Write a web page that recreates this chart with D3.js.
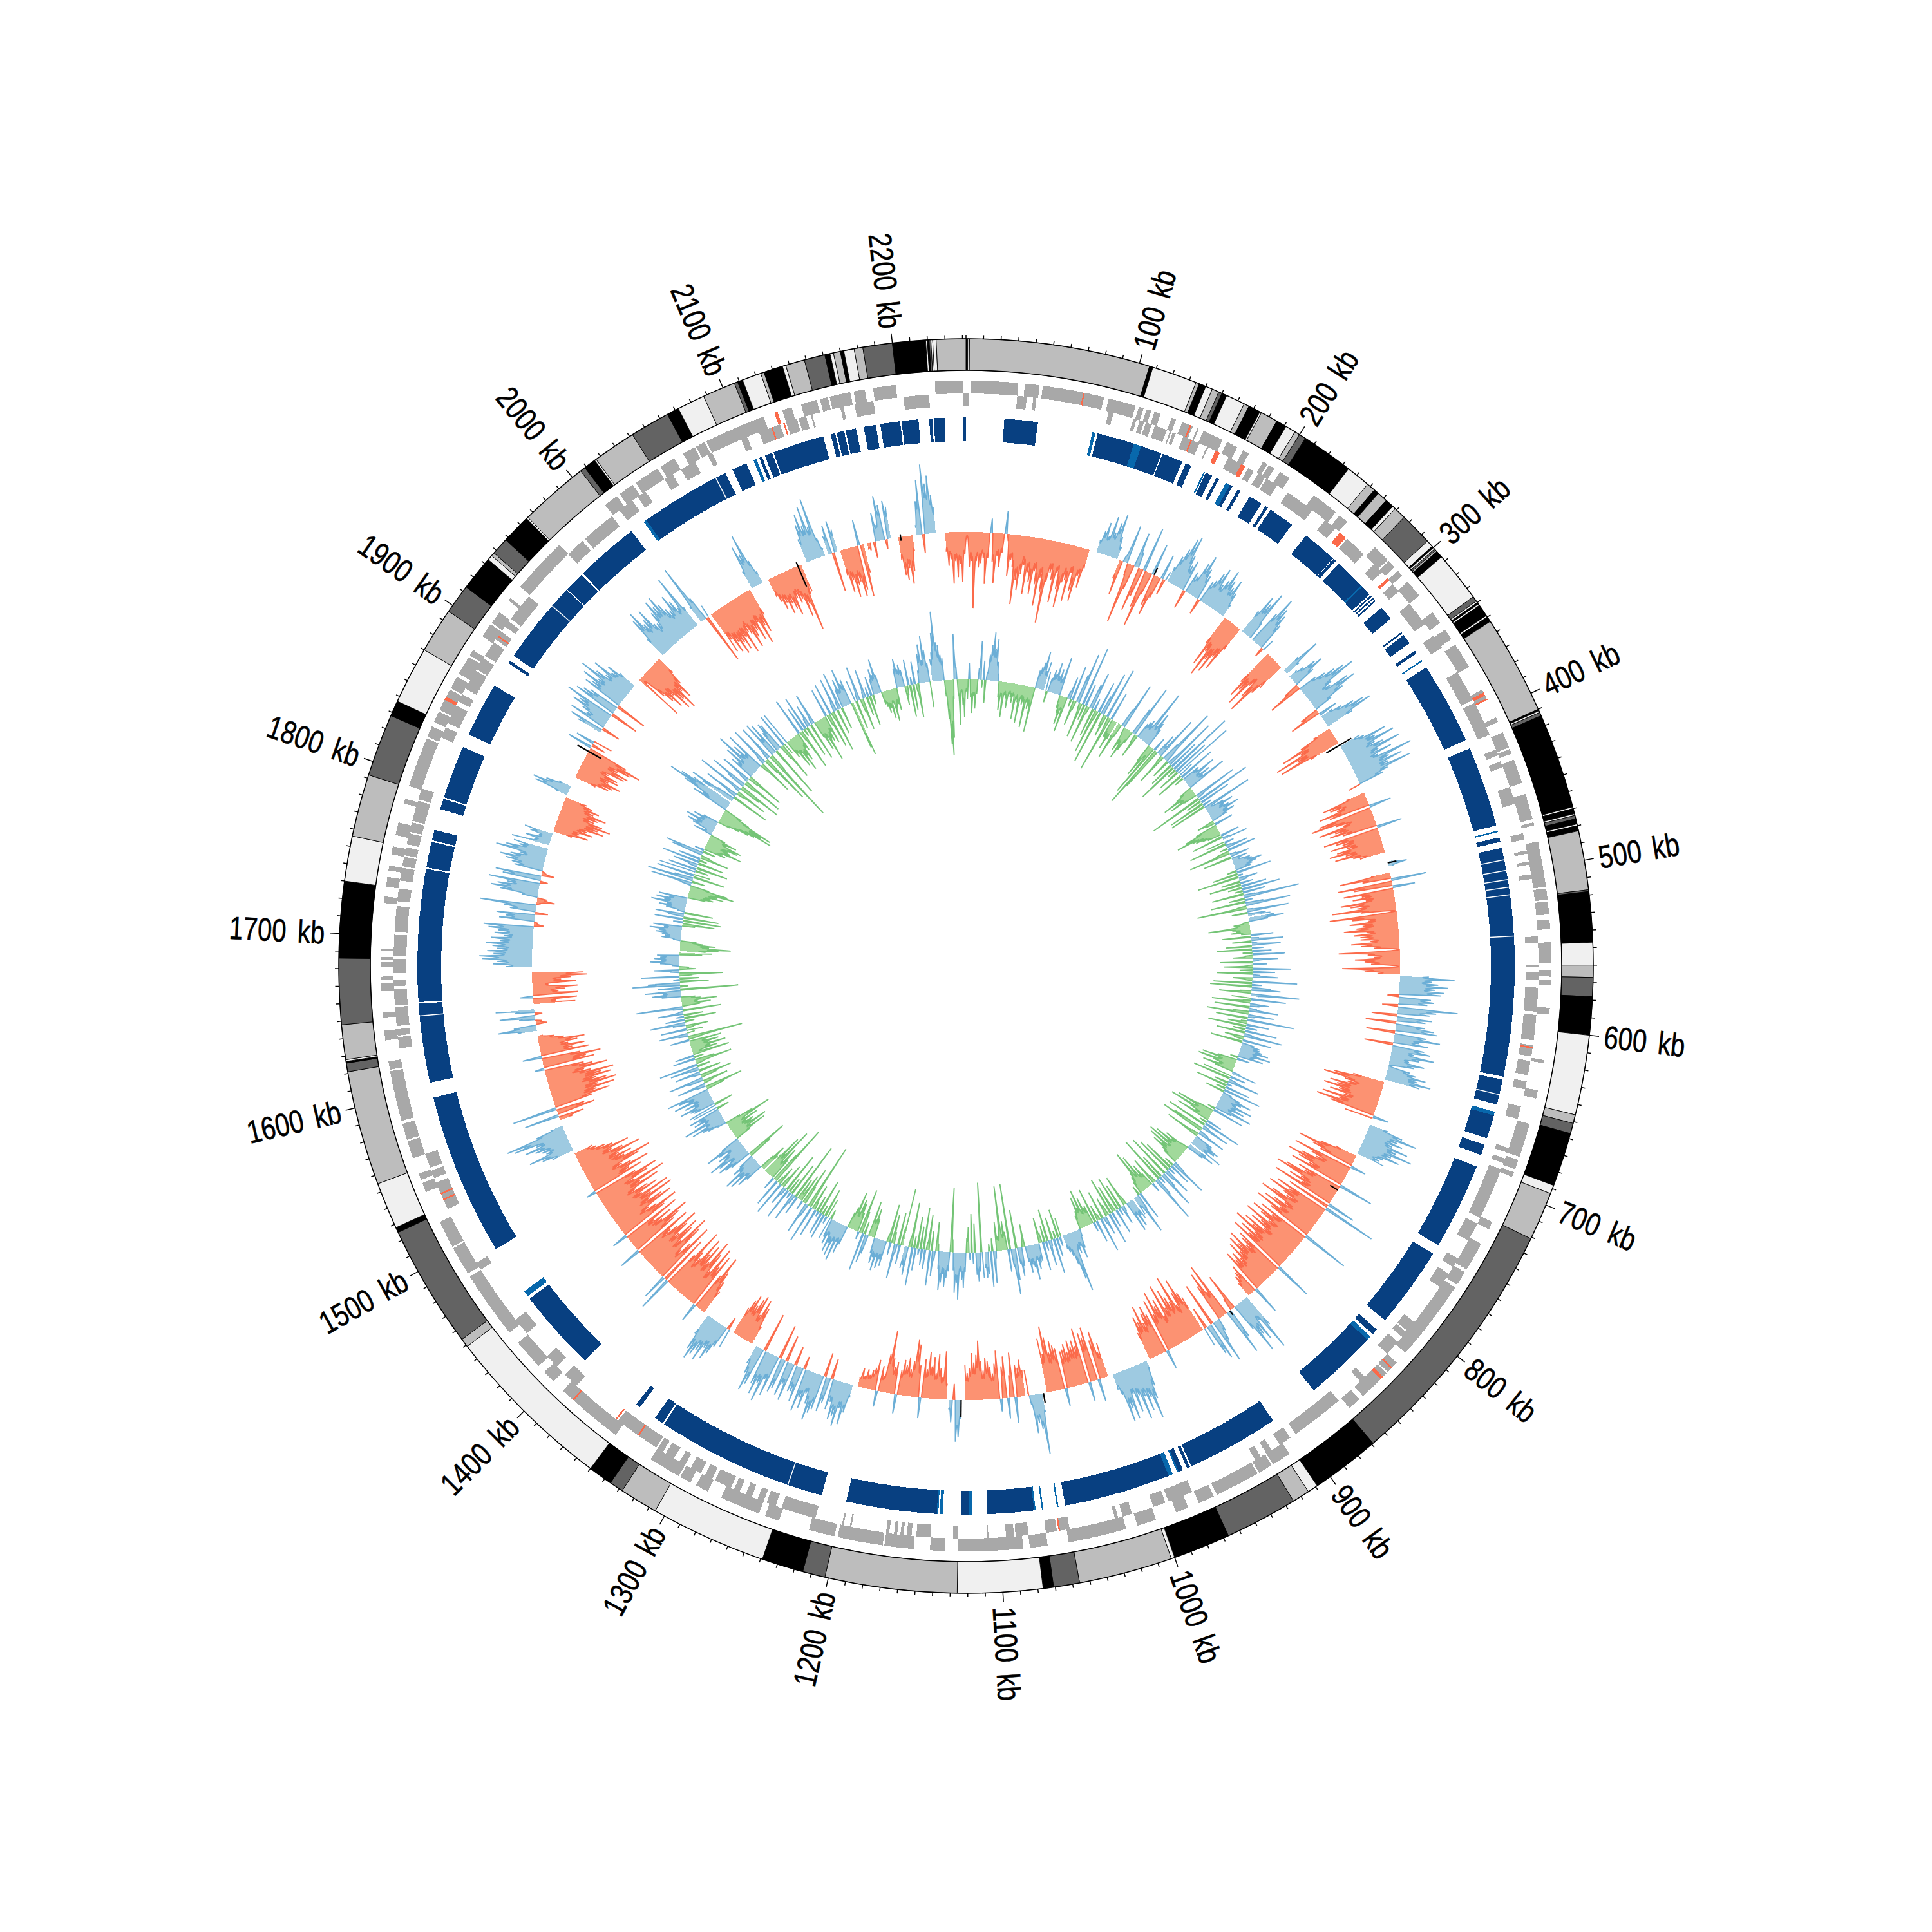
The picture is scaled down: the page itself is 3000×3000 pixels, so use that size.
<!DOCTYPE html>
<html><head><meta charset="utf-8">
<script src="https://d3js.org/d3.v7.min.js"></script>
<style>html,body{margin:0;background:#fff}text{font-family:"Liberation Sans",sans-serif}</style>
</head><body><svg id="c" width="3000" height="3000"></svg>
<script>
const genomeKb=2242;
const tickLabels=[100,200,300,400,500,600,700,800,900,1000,1100,1200,1300,1400,1500,1600,1700,1800,1900,2000,2100,2200];
// outer ring: start kb, end kb, shade index (0 black, 1 dark, 2 mid, 3 light)
const bandRows=[[0,1,0],[1,2,3],[2,106,2],[106,108,0],[108,134,3],[134,136,2],[136,140,0],[140,144,3],[144,148,2],[148,150,1],[150,153,0],[153,164,3],[164,167,2],[167,174,0],[174,175,3],[175,185,2],[185,191,0],[191,197,3],[197,200,2],[200,204,1],[204,234,0],[234,248,3],[248,253,2],[253,256,0],[256,262,2],[262,267,0],[267,269,3],[269,276,2],[276,295,1],[295,299,3],[299,300,0],[300,301,3],[301,302,1],[302,303,2],[303,307,0],[307,336,3],[336,339,1],[339,340,3],[340,341,0],[341,342,3],[342,349,0],[349,350,3],[350,353,0],[353,410,2],[410,411,0],[411,412,3],[412,414,1],[414,469,0],[469,470,3],[470,473,0],[473,474,3],[474,476,1],[476,479,0],[479,480,3],[480,483,0],[483,517,2],[517,518,1],[518,547,0],[547,560,3],[560,567,2],[567,578,1],[578,600,0],[600,646,3],[646,651,2],[651,657,1],[657,688,0],[688,693,3],[693,721,2],[721,869,1],[869,909,0],[909,915,3],[915,925,2],[925,967,1],[967,1000,0],[1000,1002,3],[1002,1056,2],[1056,1071,1],[1071,1077,0],[1077,1126,3],[1126,1202,2],[1202,1215,1],[1215,1239,0],[1239,1306,3],[1306,1328,2],[1328,1336,1],[1336,1350,0],[1350,1449,3],[1449,1454,2],[1454,1525,1],[1525,1528,0],[1528,1555,3],[1555,1621,2],[1621,1626,1],[1626,1627,0],[1627,1628,3],[1628,1648,2],[1648,1686,1],[1686,1730,0],[1730,1756,3],[1756,1792,2],[1792,1828,1],[1828,1837,0],[1837,1870,3],[1870,1896,2],[1896,1913,1],[1913,1933,0],[1933,1936,3],[1936,1938,2],[1938,1948,1],[1948,1965,0],[1965,1966,3],[1966,2006,2],[2006,2009,1],[2009,2016,0],[2016,2017,3],[2017,2042,2],[2042,2065,1],[2065,2072,0],[2072,2088,3],[2088,2107,2],[2107,2109,1],[2109,2112,0],[2112,2123,3],[2123,2125,2],[2125,2136,0],[2136,2138,3],[2138,2149,2],[2149,2161,1],[2161,2164,0],[2164,2166,3],[2166,2170,2],[2170,2172,0],[2172,2178,3],[2178,2183,2],[2183,2200,1],[2200,2219,0],[2219,2220,3],[2220,2221,0],[2221,2222,1],[2222,2223,3],[2223,2225,3],[2225,2242,2]];
const bandShades=["#000000","#636363","#bdbdbd","#f0f0f0"];
const geneA=[[2185,2199],[2223,2240],[3,32],[36,45],[47,85],[88,105],[107,110],[112,115],[117,121],[128,131],[135,142],[145,146],[149,162],[165,172],[176,180],[190,193],[194,198],[202,209],[227,234],[234,244],[247,253],[276,287],[288,293],[296,300],[305,316],[329,337],[342,349],[353,369],[385,392],[404,407],[414,424],[425,428],[432,447],[454,470],[472,474],[484,512],[513,520],[521,529],[532,538],[546,559],[563,567],[569,572],[586,590],[618,620],[637,642],[658,679],[681,687],[689,692],[722,727],[737,755],[757,766],[768,806],[806,818],[826,834],[835,855],[858,866],[912,924],[925,934],[935,963],[965,975],[982,990],[1003,1015],[1022,1058],[1071,1082],[1086,1126],[1134,1143],[1153,1171],[1172,1200],[1202,1218],[1237,1246],[1250,1256],[1256,1268],[1268,1275],[1284,1292],[1296,1303],[1304,1318],[1318,1324],[1350,1383],[1384,1392],[1400,1408],[1413,1425],[1424,1432],[1440,1452],[1452,1482],[1484,1502],[1503,1520],[1540,1546],[1548,1552],[1562,1573],[1574,1584],[1586,1617],[1618,1623],[1636,1642],[1650,1653],[1666,1671],[1673,1675],[1681,1684],[1685,1687],[1691,1692],[1720,1724],[1730,1736],[1740,1743],[1750,1755],[1762,1770],[1782,1785],[1793,1796],[1795,1824],[1825,1832],[1835,1842],[1843,1857],[1858,1866],[1868,1880],[1881,1885],[1895,1904],[1905,1913],[1922,1924],[1933,1955],[1950,1968],[2005,2014],[2016,2026],[2028,2044],[2046,2056],[2062,2070],[2071,2077],[2078,2100],[2100,2116],[2123,2125],[2128,2134],[2140,2150],[2152,2157],[2158,2166],[2166,2171],[2173,2180]];
const geneB=[[2203,2219],[2240,2244],[32,38],[42,44],[90,93],[106,108],[110,113],[114,118],[120,128],[130,131],[132,134],[139,150],[155,156],[161,164],[170,182],[184,188],[191,196],[197,205],[213,232],[242,250],[254,259],[260,268],[266,274],[283,290],[295,297],[300,306],[316,332],[341,350],[368,388],[390,406],[405,412],[422,426],[430,434],[447,458],[477,481],[488,490],[495,497],[503,506],[542,546],[560,561],[564,569],[574,589],[591,607],[610,617],[620,629],[633,638],[649,657],[676,679],[683,686],[690,723],[727,739],[752,758],[763,773],[800,807],[808,812],[816,826],[846,850],[868,877],[877,902],[906,914],[920,924],[928,932],[976,984],[983,992],[994,1002],[1016,1022],[1025,1027],[1056,1063],[1064,1071],[1082,1090],[1091,1096],[1107,1108],[1126,1129],[1143,1152],[1155,1158],[1160,1162],[1164,1166],[1169,1171],[1193,1194],[1198,1199],[1216,1226],[1226,1238],[1242,1248],[1250,1254],[1258,1262],[1266,1270],[1272,1283],[1285,1290],[1293,1300],[1304,1308],[1312,1318],[1320,1324],[1325,1338],[1338,1354],[1388,1398],[1405,1414],[1433,1444],[1482,1487],[1525,1543],[1546,1551],[1553,1562],[1630,1637],[1638,1642],[1644,1656],[1657,1667],[1669,1673],[1677,1686],[1688,1701],[1703,1719],[1722,1730],[1735,1743],[1744,1750],[1751,1756],[1758,1765],[1766,1772],[1773,1786],[1787,1794],[1828,1835],[1838,1845],[1845,1850],[1853,1858],[1862,1875],[1876,1884],[1886,1896],[1898,1904],[1908,1912],[1914,1932],[1968,1980],[1982,2004],[2010,2020],[2024,2030],[2044,2050],[2056,2066],[2075,2078],[2098,2102],[2110,2112],[2112,2116],[2115,2124],[2128,2135],[2136,2141],[2144,2145],[2163,2165],[2172,2184]];
const geneRedA=[[72,73],[140,141],[387,389],[391,392],[830,831],[838,840],[1383,1384],[1850,1852],[2123,2125]];
const geneRedB=[[144,145],[161,164],[179,182],[254,259],[295,297],[611,612],[1062,1063],[1338,1339],[1355,1356],[1531,1532],[1535,1536],[1900,1901],[2118,2119],[2126,2127]];
const ringBlocks=[[25,47],[83,85],[86.5,130],[130.7,144.5],[147,151],[160,161],[161.5,166],[169,171],[176,181],[185,187],[194,203],[206,208],[210,227],[238.5,261.6],[262,264],[266.6,295],[296,297],[298,299],[300,301],[306.5,316],[327,328],[329.5,336],[342,344],[349.5,350.5],[355,409],[415,468],[471.5,472.5],[476,479],[483,633],[635,651.5],[656.5,674.5],[679,686],[694,751],[757.5,811],[819,823],[825,876],[909,970],[971,973],[976,980],[983,1056],[1060.5,1061.5],[1070.5,1071.5],[1076,1107],[1117,1124],[1136,1138],[1139,1199.5],[1216,1329],[1330,1336],[1348,1351],[1395,1449],[1488,1595],[1605,1657],[1658,1745],[1746,1763],[1764,1771],[1785,1792],[1793,1828],[1837,1873],[1890,1892],[1896,1951],[1951.6,1965],[1966,2008],[2018,2080],[2085,2095],[2100,2102],[2104,2106],[2108,2113],[2114,2122],[2122,2148],[2153,2156],[2157,2162],[2163,2170],[2175,2183],[2186,2199],[2200,2211],[2218,2220],[2221,2228],[2240,2242]];
const ringLight=[[83,85],[111,116],[160,161],[176,179],[287,288],[349.5,350.5],[471.5,472.5],[656.5,659],[825,828],[979,980],[983,986],[1060.5,1061.5],[1070.5,1071.5],[1075.5,1076.5],[1117,1119],[1136,1138],[1139,1140],[1451,1455],[2018,2020],[2100,2102]];
const ringNicks=[491,498,504,509,514,541,645,1239,1649,1937,2073];
// signed track values every 2 kb: [start kb, values]
const skewRuns=[
[2225,[-30,-52,-42,-80,-45,-70,-50,-78,-35,-6,-55,-45,-118,-45,-55,-48,-40,-80,-40,22,-45,-78,-35,-52,-30,35,-8,-65,-40,-50,-108,-70,-85,-60,-45,-90,-55,-70,-88,-52,-72,-105,-60,-82,-130,-65,-50,-60,-95,-48,-72,-100,-60,-55,-88,-42,-70,-85,-45,-62,-30]],
[109,[20,35,50,30,62,38,55,70,35,20]],
[129,[-30,-55,10,60,-20,-95,-40,55,25,-70,-45,70,-60,-90,-35,50,-50,-65,-35,40,-25,15]],
[172,[25,45,60,80,85,55,40,50,-30,35,30,55,70,50,40,-25,35,40,55,65,40,50,70,55,45,60,40,22]],
[228,[-50,-85,-60,-100,-70,-90,-60,-80,-40]],
[246,[40,70,60,82,30,0,55,85,70,60,45,-15,20]],
[274,[-60,-85,-70,-95,-55,-75,-100,-60,-45]],
[293,[30,65,25]],
[300,[15,25,45,55,35,-25,-55,30,45,60,75,90,45,40,70,80,55,30,-30,-50,30,0]],
[342,[20,35,55,70,80,45]],
[354,[-30,-55,-90,-60,-105,-70,-100,-50]],
[371,[35,40,75,55,85,50,62,88,50,70,45,100,60,80,55,90,50,40,-20]],
[414,[-30,-70,-60,-50,-80,-65,35,-85,-99,-60,-50,-90,-65,-75,-55,40,-88,-70,-60,-80,-55,-72,-85,-60,-78,-50,-40]],
[474,[8,30,8]],
[483,[-30,-80,-45,55,-85,-60,35,-78,-50,-65,-45,-85,-70,-60,-100,-55,-2,-105,-70,-45,-75,-55,-65,-85,-50,-70,-60,-60,-45,-75,-60,-40,-2,-95,-50,-40,-70,-55,-45,-2,-90,-55,-35]],
[569,[45,85,50,60,75,55,70,65,-18,50,55,45,-25,93,60,50,-40,55,45,-48,45,60,65,-45,50,72,40,55,-45,50,60,35,68,45,30,55,40,2,35,45,62,50,72,55]],
[657,[-50,-80,-95,-60,-55,-82,-70,-90,-65,-78,-55,-88,-60,-95,-72,25,-45]],
[694,[30,55,80,50,60,45,72,55,82,50,65,40,35,45]],
[722,[-35,-60,-95,-70,-55,25,-95,-65,-55,-78,-100,-80,-60,-88,55,-72,-60,-90,-105,-60,-78,-55,-100,45,-70,85,-88,-65,-98,-70,-62,-85,-103,-58,-75,-90,-60,-100,-72,75,-85,-62,-95,-78,-60,-100,-70,-85,-58,-92,-75,-105,-65,-88,-70,-98,60,-80,-72,-60,-90,-70,-85,-60,-78,-52,-65,-55,-70,45,-50,-40,-35,-25]],
[870,[55,95,40,72,60,88,45,-60,-20,50,75,-90,-45,-80,-60,20,35,70,-70,60,50,-35,30]],
[915,[-60,-70,-95,-75,-55,-105,-65,-75,-88,-60,-100,-50,-80,-70,-95,-60,-85,30,-65,-80,-70,-55,-85,-60,-70,-45]],
[968,[12,40,60,90,55,75,50,85,45,70,40,78,60,80,35,25]],
[1002,[-55,-40,-75,-62,35,-85,-70,-78,30,-88,-60,-70,-62,-72,-55,-68,-60,-58,28,-65,-70,-78,-60,-85,-103,-60,-85]],
[1058,[30,95,55,45,60,15,-40]],
[1072,[-40,-57,-45,-50,40,-70,-35,32,-65,-50,20,-75,-55,-40,-50,-60,-65,-45,-60,-92,-70,-58,-73,-50,-42,-55]],
[1125,[30,58,65,-25,35,15]],
[1137,[-25,-75,-35,-48,-70,-40,-65,-50,-72,-45,-60,32,-50,-82,-90,-55,-42,-60,-48,-55,-38,30,-50,-42,-55,-97,-60,-25,-40,25,-48,-35,-30,-22,-30,-18,-30,-15]],
[1215,[20,45,65,40,70,55,62,35,48,-32,40,55,-38,55,62,75,50,35,60,45,68,-20,55,40,42,-30,60,35,55,-42,48,55,-55,65,40,78,50,70,55,-62,60,72,45,30]],
[1305,[-30,-60,-72,-45,-75,-68,-55,-70,-60,-45]],
[1326,[30,-20,35,50,62,45,70,55,65,75,60,35]],
[1352,[-40,-55,-70,-95,-60,30,-90,-70,-100,-55,-85,-105,-65,-92,-75,-100,-60,-70,-105,-58,55,-80,40,-100,-65,-50,-92,-108,-60,-85,-98,-65,-85,-105,-70,-60,-95,35,-75,-88,-105,-60,-80,-50,-95,25,-78,-102,-68,-55,-100,-85,-65,-108,-72,-105,-60,-90,-75,-55,-98,-68,-112,-62,-88,-105,-70,15,-85,-65,-100,-72,-58,-90,-110,-68,-82,-62,-100,-72,-55,-85,-60,-48,-35,-30]],
[1525,[35,50,70,40,45,55,70,50,85,95,45,20]],
[1552,[-20,-40,55,-60,-45,70,-60,-90,-70,-100,-75,-105,-90,-75,-100,-85,-105,-70,-60,-98,-75,-62,15,-80,-68,-92,-60,30,-75,-50,-70,-45,-60,-72,-40,-25,-8]],
[1628,[30,60,35,-18,-10,25,55,-12,30,60]],
[1650,[-65,-35,-68,20,-70,-40,-50,-70,-25,-68,-45,-60,-85,-80]],
[1681,[40,60,55,78,82,60,70,55,62,72,50,65,45,60,55,70,78,-15,-5,55,45,60,-20,40,50,88,-5,-28,-15,25,60,75,65,50,80,-12,60,72,-20,-5,45,50,60,70,55,40,80,65,45,55]],
[1782,[60,25,40,20,35,45]],
[1794,[-30,-55,-40,-60,-50,-75,-65,-84,-70,-55,-60,-72,-50,-58,-45,-35]],
[1826,[18,55,60,40,20]],
[1842,[-35,-55,-60,-72,-50,-65,-62,-45,-70,-75,-55,-75,-90,-65,40,-22,30,-30]],
[1884,[40,55,-30,60,35,45,65,55,80,-45,70,60,50,-50,65,55,75,50,85,60,45,70,40,50,30]],
[1938,[-78,-8,-45,-60,-75,-55,-85,-70,-90,-60,-75,-50,-30]],
[1966,[35,70,81,55,60,75,45,42,60,78,65,80,62,50,45,68,55,40,92,35]],
[2008,[30,98,40,-80,20]],
[2018,[-70,-50,-75,-60,-82,-65,-78,-60,-88,-55,-60,-85,-70,-60,-78,-50,-88,-60,-72,-45]],
[2058,[30,70,55,85,40,20]],
[2073,[-30,-40,-55,-45,-65,-50,-60,-72,-45,-55,-50,-80,-62,-105,-48,-45]],
[2108,[38,60,75,55,85,50,95,30,12]],
[2127,[30,45,-62,50,35]],
[2137,[-40,-68,-50,-78,-60,-55,-80,-70,40,-82,-45]],
[2160,[-10,-12,0,-25,45,25,70,55,-15,60,50]],
[2186,[-35,-60,-68,-50,-75,-55,-25]],
[2201,[15,52,85,-30,108,78,90,60,40]]
];
const skewBlack=[[370,-24,21],[475,0,14],[754,-14,0],[888,0,8],[1057,0,15],[1125,0,26],[1866,-22,20],[2100,-35,6],[2188,-6,4],[160,0,12]];
const gcRuns=[
[0,[-18,-30,25,-28,-52,-25,-45,-22,18,60,-12,30,-35,12,40,55,75,50,65,30,12,-25,-45,-22,-55,-20,-25,-40,-18,-22,-30,-20,-55,-24,-28,-60,-22,-30,-26,-65,-25,-35,-30,-70,28,35,42,60,30,45]],
[100,[30,-18,22,35,30,48,28,40,25,60,-20,-28,-45,-22,-55,12,35,-12,55,-40,-15,45,80,-10,-55,94,-25,35,-60,-12,40,60,-45,18,-70,-15,50,-85,30,70,-20,-35,82,-15,-90,45,-30,-30,-48,-30]],
[200,[-25,-60,-22,30,75,-12,-40,-28,-50,-35,-20,45,85,-15,-38,25,30,35,28,90,32,55,40,30,-30,-55,-18,-85,22,-103,-70,35,15,70,-12,-50,30,95,20,-30,15,85,-40,50,-65,109,-15,60,-35,100]],
[300,[25,-45,60,-15,30,28,55,25,42,28,65,-22,-30,-55,-28,-45,-22,70,12,-86,88,-25,50,-58,15,-60,80,12,30,45,28,35,50,30,40,25,-28,-15,30,-35,-55,-70,-45,-40,-30,-22,30,-50,12,40]],
[400,[-30,15,-60,8,35,-12,45,-20,-66,10,30,-45,25,12,28,30,45,35,28,25,-15,55,-40,8,-66,30,12,-30,20,-50,40,-22,60,-12,35,-50,18,87,-25,12,-55,28,70,-15,-78,10,65,-25,28,35]],
[500,[40,55,30,-10,-25,-22,-65,-28,-22,-30,-15,35,-45,12,50,-30,8,45,-40,18,-55,30,-15,50,-12,-30,40,10,-50,22,-8,-45,60,-20,35,-55,12,40,-30,-12,70,-60,15,-65,30,45,-18,-50,75,12]],
[600,[-30,55,-12,-60,30,15,-55,12,45,-25,-65,40,10,-50,73,-10,-30,35,-60,18,-20,50,-45,12,60,-30,-15,45,-50,20,30,30,35,45,28,50,25,40,-12,20,-30,-55,-28,-60,-35,-25,-50,-30,12,40]],
[700,[-45,25,-60,12,50,-22,8,-50,40,-15,60,-30,15,30,50,35,28,55,30,45,25,60,28,-12,50,-28,-60,-30,-70,-35,-25,-55,25,-12,60,-65,10,45,-50,-70,15,45,-12,-55,30,32,45,40,30,55]],
[800,[30,45,28,-12,-40,-28,-55,-32,-65,-28,-60,-35,-50,-30,-25,20,60,-15,35,-50,12,-60,45,18,-70,25,60,-40,12,-76,30,75,-12,-45,15,-22,-40,-25,-60,-30,-70,-35,-28,-20,45,-15,25,65,20,30]],
[900,[35,28,45,25,50,-15,-50,10,30,-40,12,-55,40,-12,-45,25,-60,50,-18,-30,30,12,-45,55,-10,-25,35,-55,15,-30,-28,-45,-25,-60,-32,-50,-28,-22,12,30,45,25,35,30,95,75,50,35,28,22]],
[1000,[-30,15,-45,30,-12,55,-35,10,40,-50,15,-25,45,-15,-40,28,30,40,25,55,35,30,42,25,-35,-10,30,45,25,-60,50,72,28,-102,35,-28,-45,-25,-100,-30,-22,-45,12,50,-20,55,-12,35,40,25]],
[1100,[40,-108,30,45,35,-45,18,-60,12,-40,-22,30,55,42,30,73,48,62,28,-20,-100,30,40,55,35,48,60,28,-12,-45,15,40,-30,55,-55,-12,30,-65,25,-35,10,-50,35,-18,60,-70,-15,45,30,35]],
[1200,[-90,-25,30,-50,15,55,-18,-45,20,-60,-12,40,30,45,28,50,30,40,25,-30,-45,-28,-55,30,45,-20,60,-35,-70,12,-30,-45,-50,-28,-60,-35,-25,30,45,28,60,30,54,35,50,25,40,30,-15,35]],
[1300,[-30,12,-45,40,-15,35,-55,8,-25,45,-12,-40,60,-20,-105,20,50,-30,-60,15,-45,-12,-35,30,-93,15,45,-55,10,-25,50,-65,12,30,-40,-18,55,-30,-12,45,-100,-50,20,-35,-55,-30,-86,-40,-70,-35]],
[1400,[-30,-45,-25,30,45,28,55,35,60,30,40,25,-40,-68,35,45,55,30,50,65,35,45,25,40,60,30,-25,-55,-30,-60,-35,-40,-28,-50,-30,-75,-45,-25,15,30,38,55,30,65,28,45,35,50,-20,40]],
[1500,[45,-30,35,40,55,30,45,28,60,35,50,68,-30,-60,15,45,-12,-40,25,55,-25,-50,12,40,-35,15,45,-20,61,-12,-58,-30,35,-15,30,-58,-12,-40,-30,-55,-28,-45,-25,-50,30,-20,-86,15,45,-12]],
[1600,[-25,40,-12,-35,20,55,-15,30,-50,12,-30,40,8,-60,15,72,-28,-45,-25,-55,-30,-22,30,45,28,55,-90,35,-12,74,50,-45,10,-30,60,-20,-67,15,40,-25,-15,12,30,45,28,40,30,35,-35,-50]],
[1700,[-40,-60,-79,-45,-55,-35,-25,12,30,25,30,40,35,50,28,45,-20,-50,15,-60,45,-55,25,45,-45,12,30,42,30,55,35,48,28,45,-28,-40,-35,-55,-45,-70,-60,-30,15,65,-20,72,30,-50,60,-25]],
[1800,[58,-20,45,-50,15,40,-40,60,-12,35,-45,-15,50,60,-20,15,-35,-30,-60,-40,-35,-50,-55,-30,-45,-25,30,12,35,45,30,50,28,40,25,-20,-35,-50,-60,-88,-70,-85,-45,-30,60,45,80,108,90,70]],
[1900,[55,75,30,-60,15,55,-12,-50,10,75,-35,-70,30,60,-20,-65,15,50,-18,-60,40,30,55,28,75,35,50,30,65,-12,-55,15,65,-25,-80,12,60,-120,-30,60,30,55,-83,35,50,45,-25,-60,55,-18]],
[2000,[54,-30,-25,-50,-28,-60,-35,-45,-25,-30,60,-15,-65,40,-12,55,-50,15,35,-60,10,50,-28,-50,-30,-70,-35,-40,-25,-45,45,-18,-55,50,-12,-65,15,53,-40,12,60,-35,30,45,28,59,35,40,-75,-87]],
[2100,[35,-45,12,54,-20,-50,10,45,-30,15,-48,30,-15,25,40,30,54,28,-20,-25,-35,-28,-45,-22,-50,-30,-25,-35,30,45,28,35,25,-30,-15,40,-50,12,-40,35,-12,-53,20,45,60,35,72,50,30,-40]],
[2200,[35,45,75,108,60,55,40,35,-25,-60,-100,-117,-90,-30,71,20,-25,-70,-20,-40,-58,-20]]
];

const svg=d3.select("#c"), g=svg.append("g").attr("transform","translate(1500,1500)");
const ang=d3.scaleLinear().domain([0,genomeKb]).range([0,2*Math.PI]);
const deg=d3.scaleLinear().domain([0,genomeKb]).range([0,360]);
const arc=d3.arc();
function band(sel,rows,r0,r1,fill){
  sel.append("g").selectAll("path").data(rows).join("path")
    .attr("d",d=>arc({innerRadius:r0,outerRadius:r1,startAngle:ang(d[0]),endAngle:ang(d[1])}))
    .attr("fill",fill).attr("shape-rendering","crispEdges");
}
g.append("g").selectAll("path").data(bandRows).join("path")
 .attr("d",d=>arc({innerRadius:925,outerRadius:974,startAngle:ang(d[0]),endAngle:ang(d[1])}))
 .attr("fill",d=>bandShades[d[2]]).attr("stroke","#000").attr("stroke-width",0.9);
g.append("circle").attr("r",974).attr("fill","none").attr("stroke","#000").attr("stroke-width",1.4);
g.append("circle").attr("r",925).attr("fill","none").attr("stroke","#000").attr("stroke-width",1.4);
const minor=d3.range(0,genomeKb,10);
g.append("g").selectAll("line").data(minor).join("line")
 .attr("transform",d=>`rotate(${deg(d)})`).attr("y1",-974)
 .attr("y2",d=>d%100===0&&d>0?-989:-980).attr("stroke","#000").attr("stroke-width",1.5);
g.append("g").selectAll("text").data(tickLabels).join("text")
 .attr("transform",d=>{const a=deg(d),rad=ang(d),R=997,x=R*Math.sin(rad),y=-R*Math.cos(rad);
   return `translate(${x},${y}) rotate(${a<180?a-90:a+90}) scale(0.8,1)`;})
 .attr("text-anchor",d=>deg(d)<180?"start":"end").attr("dominant-baseline","central")
 .attr("font-size",50).attr("word-spacing",8).attr("fill","#000").attr("stroke","#000").attr("stroke-width",0.6).text(d=>d+" kb");
const gA=g.append("g"); band(gA,geneA,889,909,"#a8a8a8");band(gA,geneRedA,889,909,"#fb6a4a");
const gB=g.append("g"); band(gB,geneB,869,889,"#a8a8a8");band(gB,geneRedB,869,889,"#fb6a4a");
const gR=g.append("g"); band(gR,ringBlocks,815,852,"#084081");band(gR,ringLight,815,852,"#0868ac");
gR.append("g").selectAll("line").data(ringNicks).join("line").attr("transform",d=>`rotate(${deg(d)})`)
 .attr("y1",-815).attr("y2",-852).attr("stroke","#fff").attr("stroke-width",1.5);

// Signed tracks: each run of same-sign samples is one shape, with concave sides so peaks stay sharp
function track(runs,base,posFill,posLine,negFill,negLine){
  const r=d3.scaleLinear().domain([-140,140]).range([base-140,base+140]);
  const P=(kb,v)=>{const a=ang(kb),R=r(v);return [R*Math.sin(a),-R*Math.cos(a)];};
  const layer=g.append("g");
  const halfBase=0.8, sag=0.3;
  for(const sign of [1,-1]) {
    const fills=[],lines=[];
    for(const [start,vals] of runs){
      let i=0;
      while(i<vals.length){
        if(sign*vals[i]<=0){i++;continue;}
        let j=i; while(j+1<vals.length&&sign*vals[j+1]>0) j++;
        const kb=k=>start+2*k;
        const left=i===0?kb(i):kb(i)-halfBase, right=j===vals.length-1?kb(j):kb(j)+halfBase;
        let rest="";
        for(let k=i;k<j;k++){
          const m=Math.min(Math.abs(vals[k]),Math.abs(vals[k+1]))*sag*sign;
          rest+=`Q${P(kb(k)+1,m)} ${P(kb(k+1),vals[k+1])}`;
        }
        const first=P(kb(i),vals[i]);
        const lineD=(i===0?`M${first}`:`M${P(left,0)}L${first}`)+rest+(j===vals.length-1?"":`L${P(right,0)}`);
        let fillD=`M${P(left,0)}L${first}`+rest+`L${P(right,0)}`;
        const steps=Math.max(1,Math.ceil((right-left)/2));
        for(let s=1;s<=steps;s++) fillD+=`L${P(right-(right-left)*s/steps,0)}`;
        fills.push(fillD+"Z"); lines.push(lineD);
        i=j+1;
      }
    }
    layer.append("g").selectAll("path").data(fills).join("path").attr("d",d=>d)
      .attr("fill",sign>0?posFill:negFill).attr("shape-rendering","crispEdges");
    layer.append("g").selectAll("path").data(lines).join("path").attr("d",d=>d)
      .attr("fill","none").attr("stroke",sign>0?posLine:negLine).attr("stroke-width",1.8);
  }
  return r;
}
const rSkew=track(skewRuns,674,"#9ecae1","#6baed6","#fc9272","#fb6a4a");
g.append("g").selectAll("line").data(skewBlack).join("line")
 .attr("transform",d=>`rotate(${deg(d[0])})`).attr("y1",d=>-rSkew(d[1])).attr("y2",d=>-rSkew(d[2]))
 .attr("stroke","#000").attr("stroke-width",2.2);
track(gcRuns,445,"#9ecae1","#6baed6","#a1d99b","#74c476");
</script></body></html>
